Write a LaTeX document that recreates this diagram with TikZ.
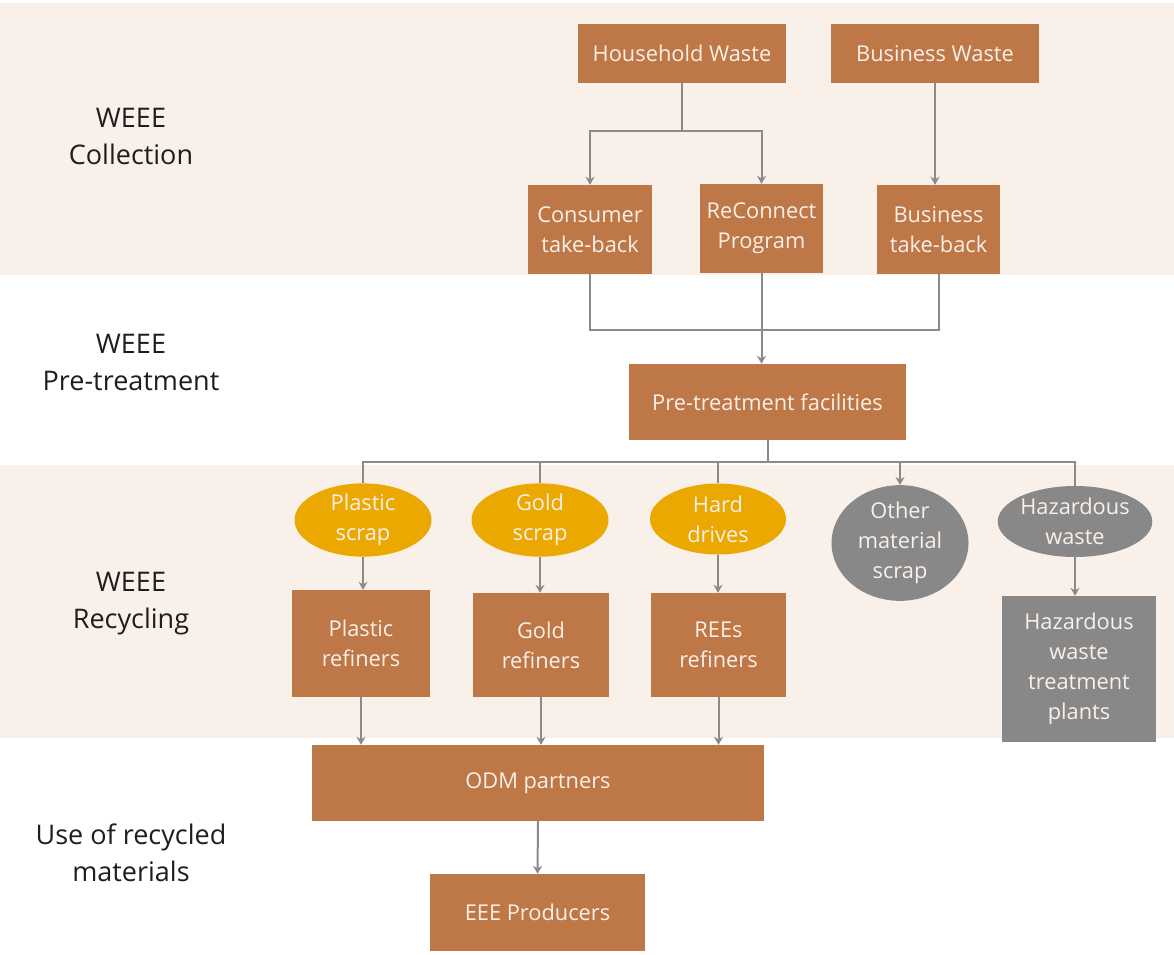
\documentclass[tikz,border=0pt]{standalone}
\usepackage{fontspec}
\setmainfont{Open Sans}
\usetikzlibrary{shapes.geometric,arrows.meta}
\definecolor{band}{HTML}{F9F0EA}
\definecolor{brown}{HTML}{BE7746}
\definecolor{gold}{HTML}{EBA800}
\definecolor{grayfill}{HTML}{888888}
\definecolor{conncol}{HTML}{8A8A8A}
\definecolor{boxtext}{HTML}{FBF0E8}
\definecolor{labeltext}{HTML}{1E1E1E}
\tikzset{
  box/.style={rectangle, fill=brown, text=boxtext, inner sep=0pt, align=center,
    font=\fontsize{21.8}{30}\selectfont},
  graybox/.style={box, fill=grayfill},
  oval/.style={ellipse, fill=gold, text=boxtext, inner sep=0pt, align=center,
    font=\fontsize{21.8}{30}\selectfont},
  grayoval/.style={oval, fill=grayfill},
  stage/.style={text=labeltext, align=center, font=\fontsize{27}{37}\selectfont},
  conn/.style={draw=conncol, line width=2pt},
  arr/.style={conn, -{Stealth[length=8pt,width=9pt]}},
}
\begin{document}
\begin{tikzpicture}[x=1pt,y=-1pt]
\useasboundingbox (0,0) rectangle (1174,954);
\fill[white] (0,0) rectangle (1174,954);
\fill[band] (0,3) rectangle (1174,275);
\fill[band] (0,465) rectangle (1174,738);

% stage labels
\node[stage] (l1) at (131,136) {WEEE\\Collection};
\node[stage] (l2) at (131,362) {WEEE\\Pre-treatment};
\node[stage] (l3) at (131,604) {WEEE\\Recycling};
\node[stage] (l4) at (131,853) {Use of recycled\\materials};

% collection
\node[box, minimum width=208pt, minimum height=59pt] (hw) at (682,53.5) {Household Waste};
\node[box, minimum width=208pt, minimum height=59pt] (bw) at (935,53.5) {Business Waste};
\node[box, minimum width=124pt, minimum height=89pt] (ct) at (590,229.5) {Consumer\\take-back};
\node[box, minimum width=123pt, minimum height=89pt] (rc) at (761.5,228.5) {ReConnect\\Program};
\node[box, minimum width=123pt, minimum height=89pt] (bt) at (938.5,229.5) {Business\\take-back};

% pre-treatment
\node[box, minimum width=277pt, minimum height=76pt] (pt) at (767.5,402) {Pre-treatment facilities};

% recycling
\node[oval, minimum width=137pt, minimum height=72pt] (ps) at (363,520) {Plastic\\scrap};
\node[oval, minimum width=137pt, minimum height=72pt] (gs) at (540,520) {Gold\\scrap};
\node[oval, minimum width=136pt, minimum height=71pt] (hd) at (718,519) {Hard\\drives};
\node[grayoval, minimum width=137pt, minimum height=100pt] (om) at (900,543) {Other\\material\\scrap};
\node[grayoval, minimum width=138pt, minimum height=71pt] (hz) at (1075,521.5) {Hazardous\\waste};
\node[box, minimum width=138pt, minimum height=107pt] (pr) at (361,643.5) {Plastic\\refiners};
\node[box, minimum width=136pt, minimum height=104pt] (gr) at (541,645) {Gold\\refiners};
\node[box, minimum width=135pt, minimum height=104pt] (rr) at (718.5,645) {REEs\\refiners};
\node[graybox, minimum width=154pt, minimum height=146pt] (hzt) at (1079,669) {Hazardous\\waste\\treatment\\plants};

% use
\node[box, minimum width=452pt, minimum height=76pt] (odm) at (538,783) {ODM partners};
\node[box, minimum width=215pt, minimum height=77pt] (eee) at (537.5,912.5) {EEE Producers};

% connectors: collection
\draw[conn] (hw.south) -- ++(0,48) coordinate (j1);
\draw[arr] (j1) -| (ct.north);
\draw[arr] (j1) -| (rc.north);
\draw[arr] (bw.south) -- (bw.south |- bt.north);

% connectors: to pre-treatment
\draw[conn] (ct.south) -- ++(0,56) coordinate (j2) -| (bt.south);
\draw[arr] (rc.south) -- (rc.south |- pt.north);

% connectors: pre-treatment to outputs
\draw[conn] (pt.south) -- ++(0,22) coordinate (j3);
\draw[conn] (ps.north) |- (j3);
\draw[conn] (j3) -| (hz.north);
\draw[conn] (gs.north |- j3) -- (gs.north);
\draw[conn] (hd.north |- j3) -- (hd.north);
\draw[arr] (om.north |- j3) -- (om.north);

% scrap to refiners
\draw[arr] (ps.south) -- (ps.south |- pr.north);
\draw[arr] (gs.south) -- (gs.south |- gr.north);
\draw[arr] (hd.south) -- (hd.south |- rr.north);
\draw[arr] (hz.south) -- (hz.south |- hzt.north);

% refiners to ODM
\draw[arr] (pr.south) -- (pr.south |- odm.north);
\draw[arr] (gr.south) -- (gr.south |- odm.north);
\draw[arr] (rr.south) -- (rr.south |- odm.north);

% ODM to EEE
\draw[arr] (odm.south) -- (eee.north);
\end{tikzpicture}
\end{document}
